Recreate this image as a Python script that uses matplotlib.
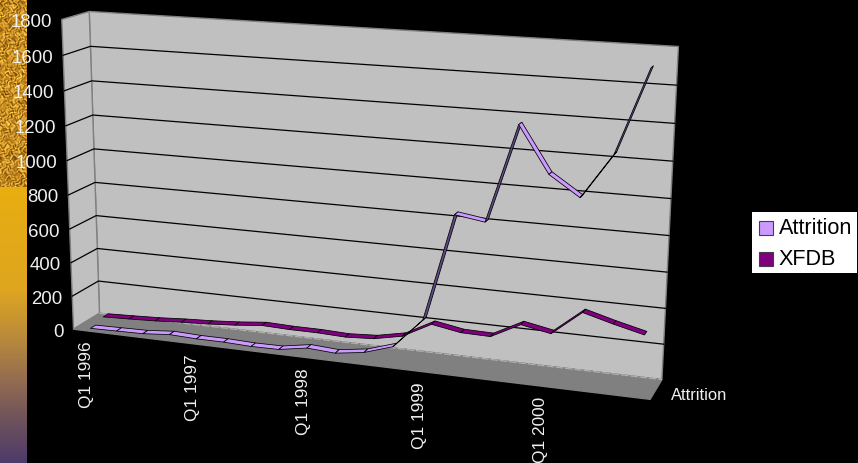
import numpy as np
import matplotlib
matplotlib.use("Agg")
import matplotlib.pyplot as plt
from matplotlib.patches import Polygon, Rectangle

plt.rcParams['font.family'] = ['Liberation Sans', 'DejaVu Sans']

# ---------- data ----------
quarters = list(range(20))
attrition = [0, 3, 6, 20, 14, 14, 8, 10, 38, 28, 52, 105, 275, 880, 855, 1391, 1141, 1032, 1275, 1730]
xfdb = [21, 27, 34, 45, 53, 65, 82, 77, 77, 71, 81, 115, 203, 174, 171, 258, 226, 364, 318, 277]
y_ticks = [0, 200, 400, 600, 800, 1000, 1200, 1400, 1600, 1800]
x_label_idx = [0, 4, 8, 12, 16]
x_labels = ['Q1 1996', 'Q1 1997', 'Q1 1998', 'Q1 1999', 'Q1 2000']
series_names = ['Attrition', 'XFDB']

Y_MAX = 1800.0
N = 20

# ---------- projection of the chart box on the page (pixels) ----------
box = [((0, 0, 0), (73, 329.5)), ((1, 0, 0), (650, 399)), ((0, 1, 0), (62, 20)),
       ((0, 0, 1), (100, 313)), ((1, 0, 1), (662, 380)), ((0, 1, 1), (89, 11)),
       ((1, 1, 1), (678, 47)), ((1, 1, 0), (667, 56))]
rows = []
for (u, w, z), (px, py) in box:
    px, py = px / 858.0, py / 463.0
    X = [u, w, z, 1]
    rows.append(X + [0, 0, 0, 0] + [-px * a for a in X])
    rows.append([0, 0, 0, 0] + X + [-py * a for a in X])
P = np.linalg.svd(np.array(rows))[2][-1].reshape(3, 4)


def proj(u, w, z):
    u, w, z = np.broadcast_arrays(np.asarray(u, float), np.asarray(w, float), np.asarray(z, float))
    h = P @ np.vstack([u.ravel(), w.ravel(), z.ravel(), np.ones(u.size)])
    return h[0] / h[2] * 858.0, h[1] / h[2] * 463.0


def cat_u(i):
    return (np.asarray(i, float) + 0.5) / N


fig = plt.figure(figsize=(8.58, 4.63), dpi=100, facecolor='black')
ax = fig.add_axes([0, 0, 1, 1])
ax.set_xlim(0, 858)
ax.set_ylim(463, 0)
ax.axis('off')

# ---------- decorative strip on the left ----------
yy, xx = np.mgrid[0:187, 0:27].astype(float)
wx = xx + 2.5 * np.sin(yy * 0.37 + xx * 0.13) + 1.5 * np.sin(yy * 0.83 - xx * 0.41)
wy = yy + 2.5 * np.sin(xx * 0.43 - yy * 0.19) + 1.5 * np.sin(xx * 0.97 + yy * 0.53)
tex = (np.sin(wx * 1.13 + wy * 0.41) + np.sin(wx * 0.37 - wy * 1.07 + 1.3) +
       np.sin(wx * 0.71 + wy * 0.89 + 2.1) * np.sin(wy * 0.31 - wx * 0.57)) / 2.4
lo = np.array([0.47, 0.29, 0.05])
mid = np.array([0.78, 0.54, 0.12])
hi = np.array([0.98, 0.80, 0.30])
t = tex[..., None]
img = np.where(t < 0, mid + (mid - lo) * t, mid + (hi - mid) * t)
img = np.clip(img, 0, 1)
ax.imshow(img, extent=(0, 27, 187, 0), aspect='auto', zorder=1, interpolation='bilinear')
stops_y = [187, 290, 340, 380, 420, 463]
stops_c = np.array([[233, 174, 16], [222, 165, 32], [184, 137, 60], [148, 108, 80],
                    [110, 82, 92], [78, 58, 106]]) / 255.0
gy = np.arange(187, 463) + 0.5
grad = np.stack([np.interp(gy, stops_y, stops_c[:, k]) for k in range(3)], axis=1)[:, None, :]
ax.imshow(grad, extent=(0, 27, 463, 187), aspect='auto', zorder=1)
ax.set_xlim(0, 858)
ax.set_ylim(463, 0)

# ---------- walls and floor ----------
def face(us, ws, zs, fc, ec='#808080', lw=1.0, zo=2):
    x, y = proj(us, ws, zs)
    ax.add_patch(Polygon(np.c_[x, y], closed=True, fc=fc, ec=ec, lw=lw, zorder=zo))


face([0, 1, 1, 0], [0, 0, 1, 1], [1, 1, 1, 1], '#C0C0C0')
face([0, 0, 0, 0], [0, 0, 1, 1], [0, 1, 1, 0], '#C0C0C0')
face([0, 1, 1, 0], [0, 0, 0, 0], [0, 0, 1, 1], '#808080', ec='#808080')

for v in y_ticks[1:-1]:
    w = v / Y_MAX
    x, y = proj([0, 0, 1], [w, w, w], [0, 1, 1])
    ax.plot(x, y, color='black', lw=0.9, zorder=3, solid_joinstyle='miter')
x, y = proj([0, 1], [0, 0], [1, 1])
ax.plot(x, y, color='#B0B0B0', lw=0.9, ls=(0, (6, 1.5)), zorder=3)

# ---------- ribbons ----------
def ribbon(values, zc, top, under, zo):
    hw = 0.10
    u = cat_u(quarters)
    w = np.asarray(values, float) / Y_MAX
    for k in range(len(u) - 1):
        x, y = proj([u[k], u[k + 1], u[k + 1], u[k]], [w[k], w[k + 1], w[k + 1], w[k]],
                    [zc - hw, zc - hw, zc + hw, zc + hw])
        area = 0.5 * np.sum(x * np.roll(y, -1) - np.roll(x, -1) * y)
        ax.add_patch(Polygon(np.c_[x, y], closed=True, fc=top if area < 0 else under,
                             ec='black', lw=0.55, zorder=zo, joinstyle='round'))


ribbon(xfdb, 0.75, '#800080', '#4A004A', 4)
ribbon(attrition, 0.25, '#CC99FF', '#5E4A85', 5)

# ---------- text ----------
TXT = '#F0F0F0'
for v in y_ticks:
    x, y = proj(0, v / Y_MAX, 0)
    ax.text(x[0] - 10, y[0] + 3, str(v), ha='right', va='center', color=TXT, fontsize=13.4, zorder=6)
for i, lab in zip(x_label_idx, x_labels):
    x, y = proj(cat_u(i), 0, 0)
    ax.text(x[0], y[0] + 11, lab, rotation=90, ha='center', va='top', color=TXT, fontsize=12.4, zorder=6)
x, y = proj(1, 0, 0)
ax.text(x[0] + 21, y[0] - 4, series_names[0], ha='left', va='center', color=TXT, fontsize=11.9, zorder=6)

# ---------- legend ----------
ax.add_patch(Rectangle((752, 212), 105, 61, fc='white', ec='none', zorder=6))
for name, col, y0 in zip(series_names, ['#CC99FF', '#800080'], [221, 252]):
    ax.add_patch(Rectangle((759, y0), 14, 14, fc=col, ec='#404040', lw=0.8, zorder=7))
    ax.text(779, y0 + 7.5, name, ha='left', va='center', color='black', fontsize=15.6, zorder=7)

fig.savefig('out.png', dpi=100, facecolor='black')
